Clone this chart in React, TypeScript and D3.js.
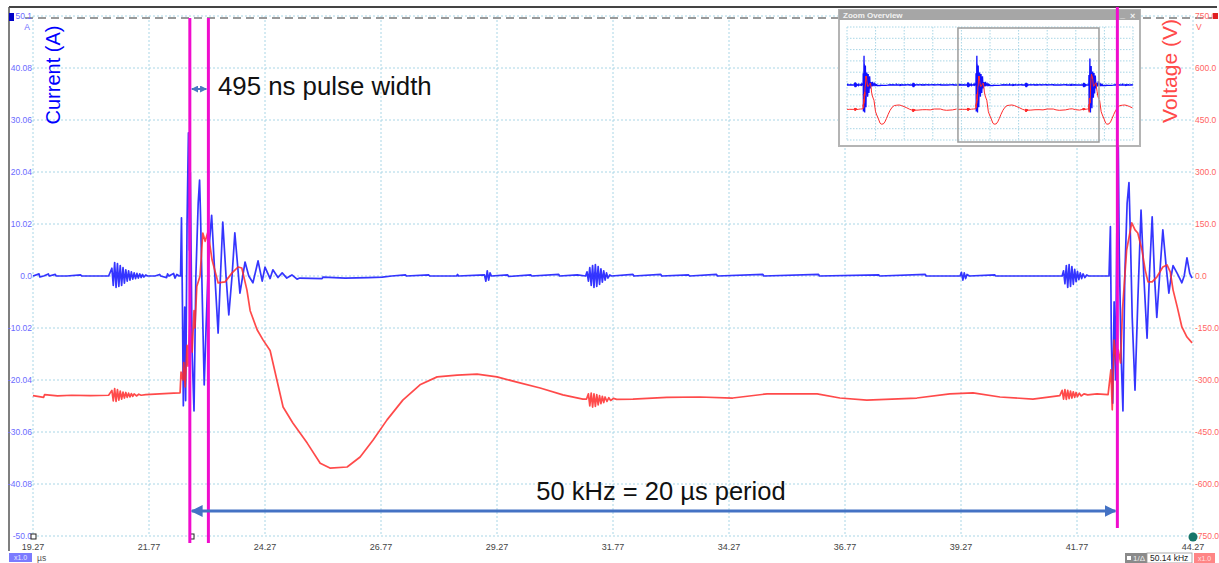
import React from 'react';
import * as d3 from 'd3';

// axis ticks and labels
const timeTicks = [19.27, 21.77, 24.27, 26.77, 29.27, 31.77, 34.27, 36.77, 39.27, 41.77, 44.27];
const timeTickLabels = ['19.27', '21.77', '24.27', '26.77', '29.27', '31.77', '34.27', '36.77', '39.27', '41.77', '44.27'];
const currentTicks = [50.1, 40.08, 30.06, 20.04, 10.02, 0, -10.02, -20.04, -30.06, -40.08, -50.1];
const currentTickLabels = ['50.1', '40.08', '30.06', '20.04', '10.02', '0.0', '-10.02', '-20.04', '-30.06', '-40.08', '-50.0'];
const voltageTicks = [750, 600, 450, 300, 150, 0, -150, -300, -450, -600, -750];
const voltageTickLabels = ['750.0', '600.0', '450.0', '300.0', '150.0', '0.0', '-150.0', '-300.0', '-450.0', '-600.0', '-750.0'];

// cursors (µs)
const cursorTimes = [22.65, 23.05, 42.64];

// channel A: current (A) vs time (µs)
const currentTrace: [number, number][] = [
  [19.27, 0], [19.4, 0.4], [19.42, -0.2], [19.5, 0], [19.6, 0.4], [19.62, 0], [19.75, 0.3], [19.77, 0],
  [20.0, 0], [20.3, 0.2], [20.32, 0], [20.9, 0],
  [20.97, 1.5], [21.0, -1.8], [21.03, 2.6], [21.06, -2.2], [21.09, 2.4], [21.12, -2.0], [21.15, 2.0],
  [21.18, -1.8], [21.21, 1.6], [21.24, -1.4], [21.27, 1.2], [21.3, -1.0], [21.33, 1.0], [21.36, -0.8],
  [21.39, 0.8], [21.42, -0.6], [21.45, 0.6], [21.48, -0.5], [21.51, 0.5], [21.54, -0.4], [21.57, 0.4],
  [21.6, -0.3], [21.63, 0.3], [21.66, -0.2], [21.7, 0.2], [21.74, 0],
  [21.9, 0], [22.0, 0.3], [22.02, 0], [22.15, -0.3], [22.17, 0.4], [22.2, 0], [22.3, 0.5], [22.33, -0.4],
  [22.37, 0.3], [22.42, 0],
  [22.45, 0], [22.47, 11.2], [22.49, -5], [22.51, -25], [22.54, -6], [22.56, -24], [22.59, 10], [22.62, 27.6],
  [22.64, 5], [22.66, 20], [22.7, -15], [22.74, -26], [22.78, 0], [22.83, 14], [22.86, 18.5], [22.88, 12],
  [22.92, -5], [22.96, -21], [23.0, -10], [23.06, 5], [23.12, 11.7], [23.19, 0], [23.26, -11], [23.31, 0],
  [23.36, 10.4], [23.43, 0], [23.49, -7.5], [23.56, 0], [23.62, 8.3], [23.68, 2], [23.73, -3.3], [23.79, 0],
  [23.84, 2.7], [23.92, 0], [24.01, -1.3], [24.12, 2.9], [24.21, -1.0], [24.27, 1.7], [24.38, -0.5],
  [24.44, 1.2], [24.55, -0.3], [24.64, 0.6], [24.74, -0.4], [24.85, 0.2], [24.96, -0.6], [25.02, -0.4],
  [25.5, -0.5], [25.52, -0.2], [26.0, -0.4], [26.5, -0.3], [26.8, -0.2], [27.0, 0], [27.3, 0.2], [27.32, 0],
  [27.8, 0.2], [27.82, 0], [28.4, 0], [28.42, 0.3], [28.44, 0],
  [29.0, 0.2], [29.03, -1.0], [29.06, 1.0], [29.09, -0.8], [29.12, 0.6], [29.15, 0],
  [29.5, 0.2], [29.52, -0.1], [30.0, 0.2], [30.02, 0], [30.6, 0.3], [30.62, 0], [31.0, 0.2], [31.18, 0],
  [31.21, 0.8], [31.24, -1.0], [31.27, 1.6], [31.3, -1.8], [31.33, 2.0], [31.36, -2.2], [31.39, 2.2],
  [31.42, -2.0], [31.45, 1.8], [31.48, -1.6], [31.51, 1.4], [31.54, -1.2], [31.57, 1.0], [31.6, -0.8],
  [31.63, 0.6], [31.66, -0.4], [31.7, 0.2], [31.74, 0],
  [32.2, 0.3], [32.22, 0], [32.8, 0.3], [32.82, 0], [33.4, 0.2], [33.42, 0], [34.0, 0.3], [34.02, 0],
  [35.0, 0.3], [35.02, 0], [36.2, 0.3], [36.22, 0], [37.5, 0.2], [37.52, 0], [38.5, 0.3], [38.52, 0],
  [39.25, 0], [39.28, 0.7], [39.31, -0.8], [39.34, 0.6], [39.37, -0.5], [39.4, 0.3], [39.45, 0],
  [40.0, 0.2], [40.02, 0], [41.45, 0],
  [41.48, 1.0], [41.51, -1.5], [41.54, 2.0], [41.57, -2.2], [41.6, 2.2], [41.63, -2.0], [41.66, 1.8],
  [41.69, -1.6], [41.72, 1.3], [41.75, -1.1], [41.78, 0.9], [41.81, -0.7], [41.84, 0.6], [41.87, -0.5],
  [41.9, 0.4], [41.94, -0.3], [41.98, 0.2], [42.02, 0],
  [42.46, 0], [42.49, 9.5], [42.51, -12], [42.54, -24.5], [42.57, -5], [42.6, -20], [42.63, 10], [42.66, 25],
  [42.68, 5], [42.72, -15], [42.76, -26], [42.8, 0], [42.85, 14], [42.89, 18], [42.92, 8], [42.96, -8],
  [43.02, -22], [43.08, -5], [43.15, 12.7], [43.21, 0], [43.28, -12], [43.33, 0], [43.39, 11.4], [43.44, 0],
  [43.49, -8], [43.55, 0], [43.62, 8.9], [43.69, 2], [43.75, -3.3], [43.8, 0], [43.84, 2], [43.93, 0.5],
  [44.03, -1.3], [44.08, 0], [44.14, 3.5], [44.2, 0.5], [44.25, -0.4],
];

// channel B: voltage (V) vs time (µs)
const voltageTrace: [number, number][] = [
  [19.27, -345], [19.5, -350], [19.52, -342], [19.8, -346], [20.1, -344], [20.5, -345], [20.9, -344],
  [20.97, -330], [21.0, -360], [21.03, -325], [21.06, -362], [21.09, -328], [21.12, -358], [21.15, -332],
  [21.18, -355], [21.21, -335], [21.24, -352], [21.27, -336], [21.3, -350], [21.33, -338], [21.36, -349],
  [21.39, -339], [21.42, -347], [21.45, -340], [21.5, -346], [21.55, -341], [21.6, -344], [21.7, -342],
  [22.0, -340], [22.3, -338], [22.44, -337],
  [22.46, -277], [22.5, -300], [22.52, -250], [22.55, -320], [22.59, -200], [22.61, -260], [22.65, -130],
  [22.7, -220], [22.74, -100], [22.76, -150], [22.8, -30], [22.87, 0], [22.93, 124], [22.98, 100],
  [23.04, 127], [23.13, 46], [23.26, -20], [23.41, -17], [23.56, 9], [23.69, 26], [23.77, 23], [23.88, -40],
  [23.95, -100], [24.1, -155], [24.23, -185], [24.38, -215], [24.66, -378], [24.87, -424], [25.18, -482],
  [25.46, -540], [25.67, -554], [26.04, -551], [26.32, -522], [26.6, -473], [26.9, -415], [27.24, -358],
  [27.61, -314], [27.98, -291], [28.41, -286], [28.84, -283], [29.27, -291], [29.7, -306], [30.2, -323],
  [30.69, -343], [31.12, -355],
  [31.2, -355], [31.24, -340], [31.27, -375], [31.3, -338], [31.33, -378], [31.36, -340], [31.39, -376],
  [31.42, -342], [31.45, -372], [31.48, -345], [31.51, -368], [31.54, -347], [31.57, -365], [31.6, -349],
  [31.64, -362], [31.68, -351], [31.72, -359], [31.78, -353], [31.85, -356],
  [32.2, -355], [32.93, -350], [33.64, -349], [34.35, -352], [35.09, -340], [36.17, -340], [36.66, -352],
  [37.24, -358], [38.32, -352], [39.03, -340], [39.53, -337], [40.11, -349], [40.82, -355], [41.4, -345],
  [41.45, -330], [41.48, -355], [41.51, -328], [41.54, -356], [41.57, -330], [41.6, -354], [41.63, -332],
  [41.66, -352], [41.69, -334], [41.72, -350], [41.75, -336], [41.78, -348], [41.82, -338], [41.86, -346],
  [41.92, -340], [42.0, -343], [42.2, -340], [42.44, -342],
  [42.5, -271], [42.53, -386], [42.57, -185], [42.63, -262], [42.66, -213], [42.71, -251], [42.75, -98],
  [42.84, 75], [42.95, 153], [43.02, 133], [43.08, 124], [43.17, 75], [43.24, 17], [43.3, -17], [43.39, -17],
  [43.49, -3], [43.62, 26], [43.71, 32], [43.78, 12], [43.84, -40], [43.93, -89], [44.03, -147],
  [44.14, -176], [44.25, -193],
];

// overview window: period copies of the captured waveform
const overviewDomain = [-0.4, 50.3];
const overviewCopies = [
  { shift: -20, from: 19.27, to: 39.27 },
  { shift: 0, from: 19.27, to: 44.27 },
  { shift: 20, from: 24.27, to: 30.6 },
];

const W = 1219;
const H = 563;
const FONT = 'Arial, "Liberation Sans", sans-serif';
const MAGENTA = '#f00ccd';
const ARROW = '#4472c4';

export default function App() {
  const x = d3.scaleLinear().domain([19.27, 44.27]).range([33, 1193]);
  const yA = d3.scaleLinear().domain([-50.1, 50.1]).range([536, 16]);
  const yV = d3.scaleLinear().domain([-750, 750]).range([536, 16]);

  const lineA = d3.line<[number, number]>().x(d => x(d[0])).y(d => yA(d[1]));
  const lineV = d3.line<[number, number]>().x(d => x(d[0])).y(d => yV(d[1]));

  // overview scales
  const ov = { x0: 847, x1: 1133, y0: 27, y1: 140 };
  const xm = d3.scaleLinear().domain(overviewDomain).range([ov.x0, ov.x1]);
  const ymA = d3.scaleLinear().domain([-50.1, 50.1]).range([138, 32]);
  const ymV = d3.scaleLinear().domain([-750, 750]).range([138, 32]);
  const miniA = d3.line<[number, number]>().x(d => xm(d[0])).y(d => ymA(d[1]));
  const miniV = d3.line<[number, number]>().x(d => xm(d[0])).y(d => ymV(d[1]));
  const copyOf = (trace: [number, number][], c: { shift: number; from: number; to: number }) =>
    trace.filter(d => d[0] >= c.from && d[0] <= c.to).map(d => [d[0] + c.shift, d[1]] as [number, number]);

  const gridColor = '#a9d6e6';

  return (
    <svg width={W} height={H} style={{ position: 'absolute', left: 0, top: 0, background: '#fff' }}>
      <defs>
        <marker id="ah" viewBox="0 0 10 10" refX="9" refY="5" markerWidth="4" markerHeight="4" orient="auto-start-reverse">
          <path d="M0,0 L10,5 L0,10 z" fill={ARROW} />
        </marker>
        <marker id="ahs" viewBox="0 0 10 10" refX="9" refY="5" markerWidth="3.5" markerHeight="3.5" orient="auto-start-reverse">
          <path d="M0,0 L10,5 L0,10 z" fill="#4a7ac0" />
        </marker>
        <clipPath id="ovclip">
          <rect x={ov.x0} y={22} width={ov.x1 - ov.x0} height={122} />
        </clipPath>
      </defs>

      {/* frame */}
      <line x1={9} x2={1217} y1={7} y2={7} stroke="#444" strokeWidth={2} />
      <line x1={9} x2={9} y1={7} y2={551} stroke="#555" strokeWidth={1.5} />

      {/* grid */}
      {timeTicks.map(t => (
        <line key={'vg' + t} x1={x(t)} x2={x(t)} y1={16} y2={536} stroke={gridColor} strokeDasharray="2,2" />
      ))}
      {currentTicks.map(v => (
        <line key={'hg' + v} x1={33} x2={1193} y1={yA(v)} y2={yA(v)} stroke={gridColor} strokeDasharray="2,2" />
      ))}
      <line x1={25} x2={1212} y1={18} y2={18} stroke="#9a9a9a" strokeWidth={2} strokeDasharray="8,5" />

      {/* axis labels */}
      {currentTicks.map((v, i) => (
        <text key={'la' + i} x={32} y={yA(v) + 3} textAnchor="end" fontFamily={FONT} fontSize={8.5} fill="#6b6bff">
          {currentTickLabels[i]}
        </text>
      ))}
      <text x={30} y={30} textAnchor="end" fontFamily={FONT} fontSize={8.5} fill="#6b6bff">A</text>
      {voltageTicks.map((v, i) => (
        <text key={'lv' + i} x={1195} y={yV(v) + 3} fontFamily={FONT} fontSize={8.5} fill="#ff6464">
          {voltageTickLabels[i]}
        </text>
      ))}
      <text x={1196} y={30} fontFamily={FONT} fontSize={8.5} fill="#ff6464">V</text>
      {timeTicks.map((t, i) => (
        <text key={'lt' + i} x={x(t)} y={550} textAnchor="middle" fontFamily={FONT} fontSize={9} fill="#444">
          {timeTickLabels[i]}
        </text>
      ))}
      <rect x={9} y={13} width={5} height={8} fill="#0000c8" />
      <rect x={1213} y={13} width={5} height={6} fill="#e02020" />

      <text transform="translate(60,75) rotate(-90)" textAnchor="middle" fontFamily={FONT} fontSize={20} fill="#0000ff">
        Current (A)
      </text>
      <text transform="translate(1177,71) rotate(-90)" textAnchor="middle" fontFamily={FONT} fontSize={21} fill="#ff4a4a">
        Voltage (V)
      </text>

      {/* traces */}
      <path d={lineA(currentTrace) || ''} fill="none" stroke="#1212ff" strokeWidth={1.7} strokeOpacity={0.85} strokeLinejoin="round" />
      <path d={lineV(voltageTrace) || ''} fill="none" stroke="#ff2a2a" strokeWidth={1.7} strokeOpacity={0.85} strokeLinejoin="round" />

      {/* small markers on the time axis */}
      <rect x={31} y={534} width={5} height={5} fill="#fff" stroke="#222" strokeWidth={1} />
      <rect x={190} y={534} width={4} height={5} fill="#fff" stroke="#222" strokeWidth={1} />
      <circle cx={1193} cy={537} r={4.5} fill="#17766a" />

      {/* cursors */}
      <line x1={x(cursorTimes[0])} x2={x(cursorTimes[0])} y1={18} y2={543} stroke={MAGENTA} strokeWidth={3} />
      <line x1={x(cursorTimes[1])} x2={x(cursorTimes[1])} y1={18} y2={543} stroke={MAGENTA} strokeWidth={3} />

      {/* annotations */}
      <line x1={x(cursorTimes[0]) + 2} x2={x(cursorTimes[1]) - 2} y1={89} y2={89} stroke="#4a7ac0" strokeWidth={2}
        markerStart="url(#ahs)" markerEnd="url(#ahs)" />
      <text x={218} y={95} fontFamily={FONT} fontSize={25.8} fill="#111">495 ns pulse width</text>
      <line x1={x(cursorTimes[0]) + 2} x2={x(cursorTimes[2]) - 2} y1={511} y2={511} stroke={ARROW} strokeWidth={3}
        markerStart="url(#ah)" markerEnd="url(#ah)" />
      <text x={661} y={500} textAnchor="middle" fontFamily={FONT} fontSize={25.5} fill="#111">50 kHz = 20 µs period</text>

      {/* zoom overview inset */}
      <g>
        <rect x={839} y={10} width={301} height={136} fill="#fff" stroke="#b4b4b4" strokeWidth={2} />
        <rect x={839} y={10} width={301} height={10} fill="#a6a6a6" />
        <text x={843} y={18} fontFamily={FONT} fontSize={8} fontWeight={600} fill="#f2f2f2">Zoom Overview</text>
        <text x={1120} y={18} fontFamily={FONT} fontSize={9} fontWeight={700} fill="#f2f2f2">_</text>
        <text x={1130} y={18.5} fontFamily={FONT} fontSize={9} fontWeight={700} fill="#f2f2f2">×</text>
        {d3.range(11).map(i => {
          const gx = ov.x0 + (i * (ov.x1 - ov.x0)) / 10;
          return <line key={'ovx' + i} x1={gx} x2={gx} y1={ov.y0} y2={ov.y1} stroke={gridColor} strokeDasharray="1.5,1.5" />;
        })}
        {d3.range(11).map(i => {
          const gy = ov.y0 + (i * (ov.y1 - ov.y0)) / 10;
          return <line key={'ovy' + i} x1={ov.x0} x2={ov.x1} y1={gy} y2={gy} stroke={gridColor} strokeDasharray="1.5,1.5" />;
        })}
        <g clipPath="url(#ovclip)">
          {overviewCopies.map((c, i) => (
            <g key={'oc' + i}>
              <path d={miniA(copyOf(currentTrace, c)) || ''} fill="none" stroke="#1010ff" strokeWidth={1.3} />
              <path d={miniV(copyOf(voltageTrace, c)) || ''} fill="none" stroke="#ff2a2a" strokeWidth={1} />
            </g>
          ))}
        </g>
        <rect x={xm(19.27)} y={28} width={xm(44.27) - xm(19.27)} height={114} fill="none" stroke="#9c9c9c" strokeWidth={1.5} />
      </g>

      {/* third cursor over the inset */}
      <line x1={x(cursorTimes[2])} x2={x(cursorTimes[2])} y1={7} y2={528} stroke={MAGENTA} strokeWidth={3} />

      {/* status boxes */}
      <rect x={9} y={553} width={23} height={9} fill="#7b7bff" />
      <text x={20.5} y={560} textAnchor="middle" fontFamily={FONT} fontSize={7} fill="#e8e8ff">x1.0</text>
      <text x={37} y={561} fontFamily={FONT} fontSize={8.5} fill="#555">µs</text>
      <rect x={1125} y={553} width={22} height={10} fill="#8a8a8a" />
      <rect x={1127} y={556} width={4} height={4} fill="#fff" />
      <text x={1133} y={561} fontFamily={FONT} fontSize={8} fill="#eee">1/Δ</text>
      <rect x={1147} y={553} width={45} height={10} fill="#fff" stroke="#999" strokeWidth={0.8} />
      <text x={1150} y={561} fontFamily={FONT} fontSize={8.5} fill="#222">50.14 kHz</text>
      <rect x={1194} y={553} width={21} height={10} fill="#ff8585" />
      <text x={1204.5} y={560.5} textAnchor="middle" fontFamily={FONT} fontSize={7} fill="#ffe0e0">x1.0</text>
    </svg>
  );
}
